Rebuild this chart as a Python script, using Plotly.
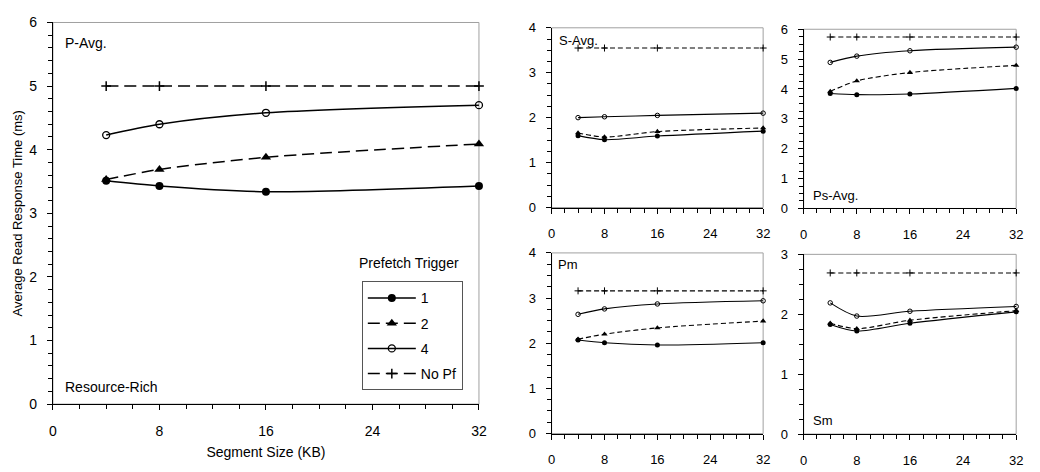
import plotly.graph_objects as go

# ---------------- data ----------------
seg_kb = [4, 8, 16, 32]
series_names = ["1", "2", "4", "No Pf"]

# Main panel: P-Avg. (Resource-Rich)
p_avg_1 = [3.51, 3.43, 3.34, 3.43]
p_avg_2 = [3.53, 3.69, 3.88, 4.09]
p_avg_4 = [4.23, 4.40, 4.58, 4.70]
p_avg_nopf = [5.00, 5.00, 5.00, 5.00]

# S-Avg.
s_avg_1 = [1.60, 1.51, 1.59, 1.70]
s_avg_2 = [1.66, 1.57, 1.69, 1.77]
s_avg_4 = [2.00, 2.02, 2.05, 2.10]
s_avg_nopf = [3.55, 3.55, 3.55, 3.55]

# Ps-Avg.
ps_avg_1 = [3.85, 3.81, 3.83, 4.02]
ps_avg_2 = [3.92, 4.27, 4.55, 4.79]
ps_avg_4 = [4.89, 5.10, 5.28, 5.40]
ps_avg_nopf = [5.74, 5.74, 5.74, 5.74]

# Pm
pm_1 = [2.07, 2.01, 1.96, 2.01]
pm_2 = [2.09, 2.20, 2.34, 2.49]
pm_4 = [2.64, 2.76, 2.87, 2.94]
pm_nopf = [3.16, 3.16, 3.16, 3.16]

# Sm
sm_1 = [1.83, 1.72, 1.85, 2.04]
sm_2 = [1.85, 1.76, 1.90, 2.06]
sm_4 = [2.19, 1.97, 2.05, 2.13]
sm_nopf = [2.69, 2.69, 2.69, 2.69]

# ---------------- styles ----------------
FONT = "Arial, Liberation Sans, sans-serif"
styles = {
    "1": dict(dash="solid", symbol="circle"),
    "2": dict(dash="dash", symbol="triangle-up"),
    "4": dict(dash="solid", symbol="circle-open"),
    "No Pf": dict(dash="dash", symbol="cross-thin"),
}
big_sizes = {"1": 8, "2": 9, "4": 7, "No Pf": 7}
small_sizes = {"1": 5, "2": 5.5, "4": 4.5, "No Pf": 5}

fig = go.Figure()


def add_panel(ys, axis_id, big):
    xa = "x" if axis_id == 1 else f"x{axis_id}"
    ya = "y" if axis_id == 1 else f"y{axis_id}"
    for name, yv in zip(series_names, ys):
        st = styles[name]
        if big:
            dash = "12px,6px" if st["dash"] == "dash" else "solid"
            lw = 1.5
            msize = big_sizes[name]
        else:
            dash = "5px,3px" if st["dash"] == "dash" else "solid"
            lw = 1.1
            msize = small_sizes[name]
        mlw = 0
        if name == "4":
            mlw = 1.3 if big else 1.0
        elif name == "No Pf":
            mlw = 1.5 if big else 1.0
        marker = dict(symbol=st["symbol"], size=msize, color="black",
                      line=dict(color="black", width=mlw))
        fig.add_trace(go.Scatter(
            x=seg_kb, y=yv, name=name, mode="lines+markers",
            line=dict(color="black", width=lw, dash=dash, shape="spline", smoothing=0.8),
            marker=marker, xaxis=xa, yaxis=ya, cliponaxis=False,
            showlegend=big, legendgroup=name,
        ))


add_panel([p_avg_1, p_avg_2, p_avg_4, p_avg_nopf], 1, True)
add_panel([s_avg_1, s_avg_2, s_avg_4, s_avg_nopf], 2, False)
add_panel([ps_avg_1, ps_avg_2, ps_avg_4, ps_avg_nopf], 3, False)
add_panel([pm_1, pm_2, pm_4, pm_nopf], 4, False)
add_panel([sm_1, sm_2, sm_4, sm_nopf], 5, False)

W, H = 1040, 472


def xd(a, b):
    return [a / W, b / W]


def yd(bottom, top):
    return [1 - bottom / H, 1 - top / H]


def xaxis(domain, anchor, fs, title=None):
    d = dict(domain=domain, anchor=anchor, range=[0, 32], tick0=0, dtick=8,
             showgrid=False, zeroline=False, showline=True, linecolor="black", linewidth=1,
             ticks="outside", ticklen=5, tickcolor="black", tickwidth=1,
             tickfont=dict(family=FONT, size=fs, color="black"),
             ticklabelstandoff=9,
             minor=dict(dtick=2, tick0=0, ticks="outside", ticklen=4, tickcolor="black"))
    if title:
        d["title"] = dict(text=title, font=dict(family=FONT, size=fs, color="black"), standoff=9)
    return d


def yaxis(domain, anchor, rmax, minor, fs, title=None):
    d = dict(domain=domain, anchor=anchor, range=[0, rmax], tick0=0, dtick=1,
             showgrid=False, zeroline=False, showline=True, linecolor="black", linewidth=1,
             ticks="outside", ticklen=5, tickcolor="black", tickwidth=1,
             tickfont=dict(family=FONT, size=fs, color="black"),
             ticklabelstandoff=7,
             minor=dict(dtick=minor, tick0=0, ticks="outside", ticklen=4, tickcolor="black"))
    if title:
        d["title"] = dict(text=title, font=dict(family=FONT, size=13, color="black"), standoff=3)
    return d


fig.update_layout(
    width=W, height=H,
    margin=dict(l=0, r=0, t=0, b=0),
    paper_bgcolor="white", plot_bgcolor="white",
    font=dict(family=FONT, size=14, color="black"),
    xaxis=xaxis(xd(49.5, 480.5), "y", 14, "Segment Size (KB)"),
    yaxis=yaxis(yd(410, 15), "x", 6, 0.2, 14, "Average Read Response Time (ms)"),
    xaxis2=xaxis(xd(554, 768), "y2", 13),
    yaxis2=yaxis(yd(206.5, 20.5), "x2", 4, 0.25, 13),
    xaxis3=xaxis(xd(809, 1024), "y3", 13),
    yaxis3=yaxis(yd(207.5, 22), "x3", 6, 0.25, 13),
    xaxis4=xaxis(xd(554, 768), "y4", 13),
    yaxis4=yaxis(yd(440.5, 253.5), "x4", 4, 0.25, 13),
    xaxis5=xaxis(xd(809, 1024), "y5", 13),
    yaxis5=yaxis(yd(441, 255), "x5", 3, 0.25, 13),
    legend=dict(x=362 / W, y=1 - 283 / H, xanchor="left", yanchor="top",
                bordercolor="#555555", borderwidth=1, bgcolor="white",
                font=dict(family=FONT, size=14, color="black"),
                itemwidth=48, tracegroupgap=4, traceorder="grouped"),
    showlegend=True,
)

# gray plot-area frames
for i in range(1, 6):
    sx = "" if i == 1 else str(i)
    fig.add_shape(type="rect", xref=f"x{sx} domain", yref=f"y{sx} domain",
                  x0=0, x1=1, y0=0, y1=1, line=dict(color="#a0a0a0", width=1), layer="below")


def label(text, x, y, fs):
    fig.add_annotation(text=text, xref="paper", yref="paper", x=x / W, y=1 - y / H,
                       xanchor="left", yanchor="middle", showarrow=False,
                       font=dict(family=FONT, size=fs, color="black"))


label("P-Avg.", 60, 36, 14)
label("Resource-Rich", 60, 392, 14)
label("S-Avg.", 559, 34, 13)
label("Ps-Avg.", 816, 194, 13)
label("Pm", 558, 266, 13)
label("Sm", 816, 427, 13)

fig.add_annotation(text="Prefetch Trigger", xref="paper", yref="paper",
                   x=410 / W, y=1 - 264 / H, xanchor="center", yanchor="middle",
                   showarrow=False, font=dict(family=FONT, size=14, color="black"))

fig.write_html("out.html")
